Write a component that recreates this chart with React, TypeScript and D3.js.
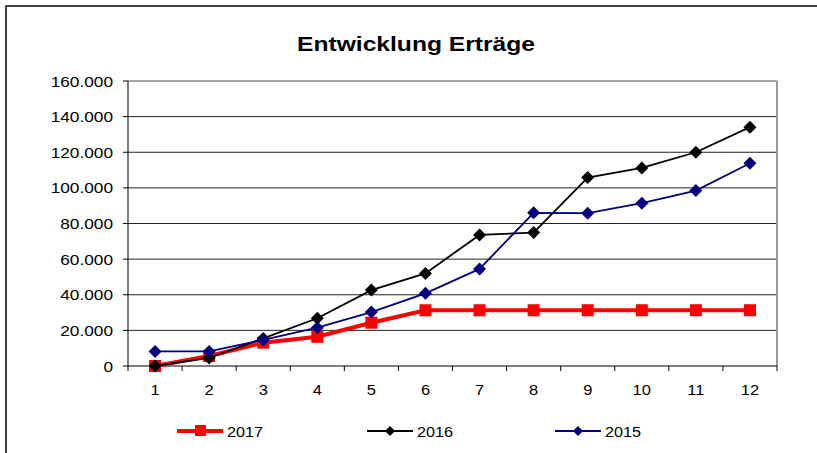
import React from 'react';
import * as d3 from 'd3';

const months = [1, 2, 3, 4, 5, 6, 7, 8, 9, 10, 11, 12];
const values2017 = [0, 5600, 13100, 16400, 24300, 31300, 31300, 31300, 31300, 31300, 31300, 31300];
const values2016 = [0, 4500, 15500, 26800, 42600, 52000, 73600, 74900, 105800, 111200, 120000, 134100];
const values2015 = [8200, 8200, 14600, 21500, 30300, 40800, 54500, 86000, 85800, 91400, 98500, 113800];
const yTicks = [0, 20000, 40000, 60000, 80000, 100000, 120000, 140000, 160000];

const seriesList = [
  { name: '2017', values: values2017, color: '#ff0000', width: 4, marker: 'square' },
  { name: '2016', values: values2016, color: '#000000', width: 1.8, marker: 'diamond' },
  { name: '2015', values: values2015, color: '#000080', width: 1.8, marker: 'diamond' },
];

const W = 817, H = 453;
const margin = { left: 128, right: 40, top: 81, bottom: 87 };
const font = 'Liberation Sans, Arial, sans-serif';

const de = d3.formatLocale({ decimal: ',', thousands: '.', grouping: [3], currency: ['', ' €'] });
const fmt = de.format(',.0f');

// text is slightly stretched horizontally in the original
const SText = ({ x, y, sx, anchor, size, children }: any) => (
  <text transform={`translate(${x},${y}) scale(${sx},1)`} textAnchor={anchor} fontFamily={font} fontSize={size}>
    {children}
  </text>
);

const Marker = ({ kind, x, y, color }: any) =>
  kind === 'square'
    ? <rect x={x - 6} y={y - 6} width={12} height={12} fill={color} />
    : <path d={`M${x},${y - 6.5}L${x + 6.5},${y}L${x},${y + 6.5}L${x - 6.5},${y}Z`} fill={color} />;

export default function App() {
  const x = d3.scaleBand<number>().domain(months).range([margin.left, W - margin.right]);
  const y = d3.scaleLinear().domain([0, 160000]).range([H - margin.bottom, margin.top]);
  const cx = (m: number) => (x(m) as number) + x.bandwidth() / 2;
  const line = d3.line<number>().x((_, i) => cx(months[i])).y(d => y(d));
  const x0 = margin.left, x1 = W - margin.right, yb = y(0), yt = y(160000);
  const boundaries = d3.range(months.length + 1).map(i => margin.left + i * x.bandwidth());
  const legendX = [177, 367, 555];

  return (
    <svg width={W} height={H} style={{ position: 'absolute', left: 0, top: 0, background: '#fff' }}>
      <rect x={6} y={6} width={W} height={H} fill="#fff" stroke="#000" strokeWidth={1.5} />
      <text x={416} y={51} textAnchor="middle" fontFamily={font} fontWeight="bold" fontSize={21}
        textLength={238} lengthAdjust="spacingAndGlyphs">
        Entwicklung Erträge
      </text>
      {yTicks.map(t => (
        <g key={t}>
          {t > 0 && t < 160000 && <line x1={x0} x2={x1} y1={y(t)} y2={y(t)} stroke="#222" strokeWidth={1} />}
          <line x1={x0 - 5} x2={x0} y1={y(t)} y2={y(t)} stroke="#000" />
          <SText x={113} y={y(t) + 5.5} sx={1.15} anchor="end" size={15}>{fmt(t)}</SText>
        </g>
      ))}
      <line x1={x0} x2={x1} y1={yt} y2={yt} stroke="#888" strokeWidth={1.5} />
      <line x1={x1} x2={x1} y1={yt} y2={yb} stroke="#999" strokeWidth={2} />
      <line x1={x0} x2={x0} y1={yt} y2={yb} stroke="#000" strokeWidth={1} />
      <line x1={x0} x2={x1} y1={yb} y2={yb} stroke="#000" strokeWidth={1} />
      {boundaries.map((b, i) => (
        <line key={i} x1={b} x2={b} y1={yb} y2={yb + 5} stroke="#000" />
      ))}
      {months.map(m => (
        <SText key={m} x={cx(m)} y={yb + 29} sx={1.1} anchor="middle" size={15}>{m}</SText>
      ))}
      {seriesList.map(s => (
        <g key={s.name}>
          <path d={line(s.values) as string} fill="none" stroke={s.color} strokeWidth={s.width} />
          {s.values.map((v, i) => (
            <Marker key={i} kind={s.marker} x={cx(months[i])} y={y(v)} color={s.color} />
          ))}
        </g>
      ))}
      {seriesList.map((s, i) => (
        <g key={s.name}>
          <line x1={legendX[i]} x2={legendX[i] + 46} y1={431} y2={431} stroke={s.color} strokeWidth={s.width} />
          {s.marker === 'square'
            ? <rect x={legendX[i] + 18} y={425} width={11} height={11} fill={s.color} />
            : <path d={`M${legendX[i] + 23},${426}L${legendX[i] + 28},${431}L${legendX[i] + 23},${436}L${legendX[i] + 18},${431}Z`} fill={s.color} />}
          <SText x={legendX[i] + 50} y={436.5} sx={1.08} anchor="start" size={15}>{s.name}</SText>
        </g>
      ))}
    </svg>
  );
}
